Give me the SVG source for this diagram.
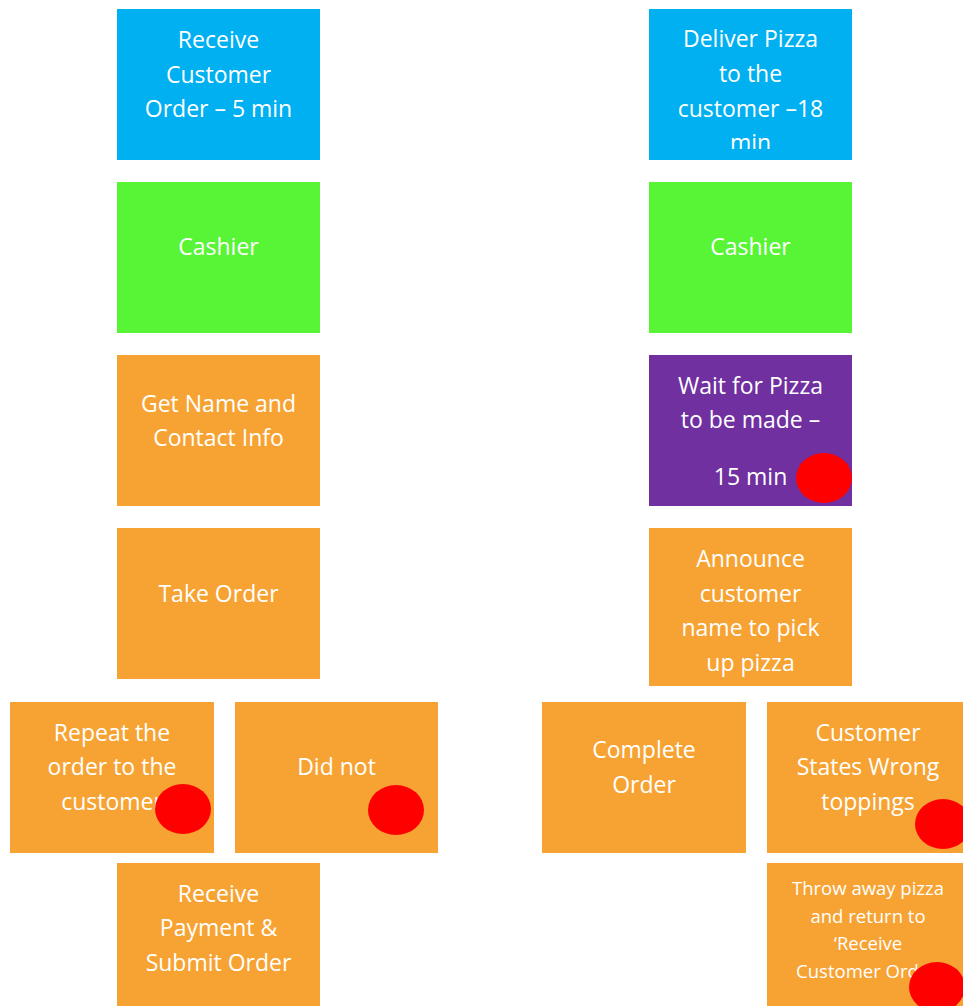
<svg xmlns="http://www.w3.org/2000/svg" width="963" height="1006" viewBox="0 0 963 1006">
<style>
.blue{fill:#00B0F0}
.green{fill:#57F536}
.orange{fill:#F7A333}
.purple{fill:#7030A0}
.dot{fill:#FF0000}
text{font-family:"Open Sans","Liberation Sans",sans-serif;font-size:23px;fill:#FFFFFF;text-anchor:middle}
text.small{font-size:18.5px}
</style>
<defs>
<clipPath id="clipDeliver"><rect x="649" y="9" width="203" height="140"/></clipPath>
</defs>
<rect width="963" height="1006" fill="#FFFFFF"/>
<g id="connectors"></g>
<g id="receive-order">
<rect class="blue" x="117" y="9" width="203" height="151"/>
<text x="218.5" y="48">Receive</text>
<text x="218.5" y="83">Customer</text>
<text x="218.5" y="117">Order – 5 min</text>
</g>
<g id="cashier-left">
<rect class="green" x="117" y="182" width="203" height="151"/>
<text x="218.5" y="255">Cashier</text>
</g>
<g id="get-name">
<rect class="orange" x="117" y="355" width="203" height="151"/>
<text x="218.5" y="412">Get Name and</text>
<text x="218.5" y="446">Contact Info</text>
</g>
<g id="take-order">
<rect class="orange" x="117" y="528" width="203" height="151"/>
<text x="218.5" y="602">Take Order</text>
</g>
<g id="repeat-order">
<rect class="orange" x="10" y="702" width="204" height="151"/>
<text x="112" y="741">Repeat the</text>
<text x="112" y="775">order to the</text>
<text x="112" y="810">customer</text>
<ellipse class="dot" cx="183" cy="809" rx="28" ry="25"/>
</g>
<g id="did-not">
<rect class="orange" x="235" y="702" width="203" height="151"/>
<text x="336.5" y="775">Did not</text>
<ellipse class="dot" cx="396" cy="810" rx="28" ry="25"/>
</g>
<g id="receive-payment">
<rect class="orange" x="117" y="863" width="203" height="143"/>
<text x="218.5" y="902">Receive</text>
<text x="218.5" y="936">Payment &amp;</text>
<text x="218.5" y="971">Submit Order</text>
</g>
<g id="deliver-pizza">
<rect class="blue" x="649" y="9" width="203" height="151"/>
<g clip-path="url(#clipDeliver)">
<text x="750.5" y="47">Deliver Pizza</text>
<text x="750.5" y="82">to the</text>
<text x="750.5" y="117">customer –18</text>
<text x="750.5" y="151">min</text>
</g>
</g>
<g id="cashier-right">
<rect class="green" x="649" y="182" width="203" height="151"/>
<text x="750.5" y="255">Cashier</text>
</g>
<g id="wait-pizza">
<rect class="purple" x="649" y="355" width="203" height="151"/>
<text x="750.5" y="394">Wait for Pizza</text>
<text x="750.5" y="428">to be made –</text>
<text x="750.5" y="485">15 min</text>
<ellipse class="dot" cx="824" cy="478" rx="28" ry="25"/>
</g>
<g id="announce">
<rect class="orange" x="649" y="528" width="203" height="158"/>
<text x="750.5" y="567">Announce</text>
<text x="750.5" y="602">customer</text>
<text x="750.5" y="636">name to pick</text>
<text x="750.5" y="671">up pizza</text>
</g>
<g id="complete-order">
<rect class="orange" x="542" y="702" width="204" height="151"/>
<text x="644" y="758">Complete</text>
<text x="644" y="793">Order</text>
</g>
<g id="wrong-toppings">
<rect class="orange" x="767" y="702" width="203" height="151"/>
<text x="868" y="741">Customer</text>
<text x="868" y="775">States Wrong</text>
<text x="868" y="810">toppings</text>
<ellipse class="dot" cx="943" cy="824" rx="28" ry="25"/>
</g>
<g id="throw-away">
<rect class="orange" x="767" y="863" width="203" height="143"/>
<text class="small" x="868" y="895">Throw away pizza</text>
<text class="small" x="868" y="923">and return to</text>
<text class="small" x="868" y="950">‘Receive</text>
<text class="small" x="868" y="978">Customer Order’</text>
<ellipse class="dot" cx="937" cy="987" rx="28" ry="25"/>
</g>
</svg>
